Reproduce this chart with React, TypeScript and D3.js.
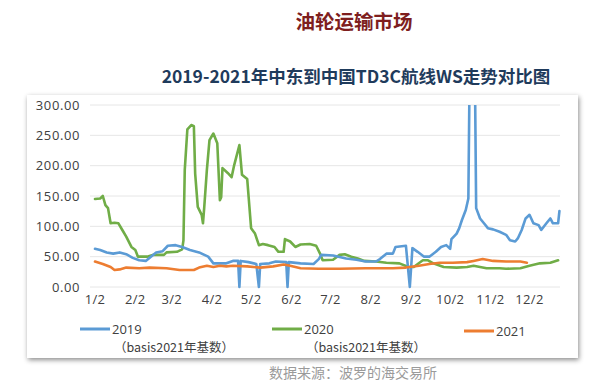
import React from "react";
import * as d3 from "d3";

const tickDates = ["01-02","02-02","03-02","04-02","05-02","06-02","07-02","08-02","09-02","10-02","11-02","12-02"];
const yTicks = [0, 50, 100, 150, 200, 250, 300];

const series2019: [string, number][] = [
  ["01-02",63],["01-06",61],["01-11",57],["01-16",55],["01-21",57],["01-26",54],["01-31",48],
  ["02-05",44],["02-10",43],["02-14",50],["02-18",57],["02-23",59],["02-27",68],["03-05",69],
  ["03-10",66],["03-16",61],["03-23",57],["03-30",50],["04-03",39],["04-13",39],["04-18",43],
  ["04-22",43],["04-23",0],["04-24",43],["04-30",41],["05-06",38],["05-08",0],["05-09",38],
  ["05-16",39],["05-21",42],["05-29",41],["05-30",0],["05-31",41],["06-09",39],["06-19",38],
  ["06-23",46],["06-25",53],["07-04",52],["07-14",47],["07-22",45],["07-29",42],["08-06",42],
  ["08-09",46],["08-14",55],["08-19",55],["08-21",66],["08-29",68],["09-01",0],["09-03",64],
  ["09-07",58],["09-12",50],["09-16",50],["09-21",58],["09-25",66],["09-29",69],["10-02",63],
  ["10-03",79],["10-07",88],["10-09",97],["10-11",110],["10-14",127],["10-16",146],["10-17",360],
  ["10-19",380],["10-21",360],["10-22",130],["10-25",113],["10-28",105],["10-31",97],["11-04",95],
  ["11-09",91],["11-14",86],["11-17",77],["11-21",75],["11-23",80],["11-26",94],["11-29",113],
  ["12-02",119],["12-05",105],["12-09",102],["12-11",94],["12-15",105],["12-18",113],["12-20",105],
  ["12-24",105],["12-25",125]
];

const series2020: [string, number][] = [
  ["01-02",145],["01-06",146],["01-08",150],["01-10",135],["01-12",130],["01-14",105],["01-17",106],
  ["01-20",105],["01-23",94],["01-26",83],["01-30",66],["02-02",61],["02-04",50],["02-11",50],
  ["02-16",53],["02-24",53],["02-26",57],["03-06",58],["03-10",62],["03-11",77],["03-12",193],
  ["03-14",260],["03-17",267],["03-19",265],["03-20",187],["03-22",132],["03-25",119],["03-26",105],
  ["03-27",132],["03-29",193],["03-31",242],["04-03",253],["04-06",237],["04-08",143],["04-09",148],
  ["04-10",196],["04-14",188],["04-17",181],["04-19",201],["04-23",234],["04-25",185],["04-29",178],
  ["05-02",97],["05-05",88],["05-08",69],["05-11",71],["05-15",69],["05-20",66],["05-23",58],
  ["05-27",58],["05-28",79],["06-01",75],["06-05",66],["06-09",70],["06-16",71],["06-21",68],
  ["06-24",55],["06-26",44],["07-04",45],["07-09",53],["07-13",54],["07-18",50],["07-23",47],
  ["07-28",43],["08-06",42],["08-14",40],["08-24",39],["08-31",33],["09-04",33],["09-11",44],
  ["09-15",44],["09-19",39],["09-27",33],["10-07",32],["10-15",33],["10-20",35],["10-30",31],
  ["11-09",31],["11-14",30],["11-25",31],["12-02",35],["12-10",39],["12-18",40],["12-24",44]
];

const series2021: [string, number][] = [
  ["01-02",42],["01-08",38],["01-14",33],["01-17",28],["01-21",29],["01-26",32],["02-05",31],
  ["02-13",32],["02-26",31],["03-08",28],["03-19",28],["03-23",32],["03-29",35],["04-03",33],
  ["04-08",35],["04-13",34],["04-18",35],["04-29",34],["05-09",32],["05-19",34],["05-27",37],
  ["06-01",35],["06-09",31],["06-23",30],["07-09",30],["07-29",31],["08-19",31],["08-29",32],
  ["09-08",35],["09-16",38],["09-24",40],["10-04",40],["10-15",41],["10-20",43],["10-27",46],
  ["11-04",43],["11-14",42],["11-25",42],["11-30",40]
];

const seriesNames = ["2019", "2020", "2021"];
const seriesNotes = ["（basis2021年基数）", "（basis2021年基数）", ""];
const seriesColors = ["#5B9BD5", "#70AD47", "#ED7D31"];

const parse = d3.timeParse("%m-%d");
const fmtTick = d3.timeFormat("%-m/%-d");
const fmtY = d3.format(".2f");

export default function App() {
  const W = 600, H = 385;
  const x = d3.scaleTime()
    .domain([parse("01-02") as Date, parse("12-02") as Date])
    .range([95, 529.5]);
  const y = d3.scaleLinear().domain([0, 300]).range([287, 105]);
  const line = d3.line<[string, number]>()
    .x(d => x(parse(d[0]) as Date))
    .y(d => y(d[1]));
  const allSeries = [series2019, series2020, series2021];
  const numFont = "'Open Sans', 'DejaVu Sans', sans-serif";
  const cjk = "'Noto Sans CJK SC', sans-serif";
  const legendX = [80, 272, 464];

  return (
    <svg width={W} height={H} style={{ position: "absolute", left: 0, top: 0, background: "#fff" }}>
      <defs>
        <filter id="sh" x="-5%" y="-5%" width="110%" height="115%">
          <feDropShadow dx="1" dy="2" stdDeviation="2.5" floodColor="#000" floodOpacity="0.45" />
        </filter>
        <clipPath id="plotClip">
          <rect x={85} y={105} width={480} height={190} />
        </clipPath>
      </defs>
      <rect x={0} y={0} width={W} height={H} fill="#fff" />
      <text x={354} y={29} textAnchor="middle" fontFamily={cjk} fontWeight={700} fontSize={19.5} fill="#7E1E1E">油轮运输市场</text>
      <text x={356} y={83} textAnchor="middle" fontFamily={cjk} fontWeight={700} fontSize={17.5} fill="#1F3B5C">2019-2021年中东到中国TD3C航线WS走势对比图</text>

      <rect x={27} y={95} width={551} height={263} fill="#fff" filter="url(#sh)" />

      {yTicks.map(t => (
        <g key={t}>
          <line x1={90} x2={560} y1={y(t)} y2={y(t)} stroke="#E6E6E6" strokeWidth={1} />
          <text x={80} y={y(t)} dy="0.35em" textAnchor="end" fontFamily={numFont} fontSize={13} letterSpacing={0.6} fill="#404040">{fmtY(t)}</text>
        </g>
      ))}
      {tickDates.map(d => (
        <text key={d} x={x(parse(d) as Date)} y={304} textAnchor="middle" fontFamily={numFont} fontSize={13} letterSpacing={0.3} fill="#404040">{fmtTick(parse(d) as Date)}</text>
      ))}

      <g clipPath="url(#plotClip)" fill="none" strokeLinejoin="round" strokeLinecap="round">
        {[1, 0, 2].map(i => (
          <path key={i} d={line(allSeries[i]) || ""} stroke={seriesColors[i]} strokeWidth={2.6} />
        ))}
      </g>

      {seriesNames.map((n, i) => (
        <g key={n}>
          <line x1={legendX[i]} x2={legendX[i] + 30} y1={i === 2 ? 331 : 329} y2={i === 2 ? 331 : 329} stroke={seriesColors[i]} strokeWidth={3} />
          <text x={legendX[i] + 32} y={i === 2 ? 331 : 329} dy="0.35em" fontFamily={numFont} fontSize={13} fill="#404040">{n}</text>
          {seriesNotes[i] && (
            <text x={legendX[i] + 34} y={348} dy="0.35em" fontFamily={cjk} fontSize={12.5} fill="#404040">{seriesNotes[i]}</text>
          )}
        </g>
      ))}

      <text x={353} y={373} dy="0.35em" textAnchor="middle" fontFamily={cjk} fontSize={14} fill="#9A9A9A">数据来源：波罗的海交易所</text>
    </svg>
  );
}
